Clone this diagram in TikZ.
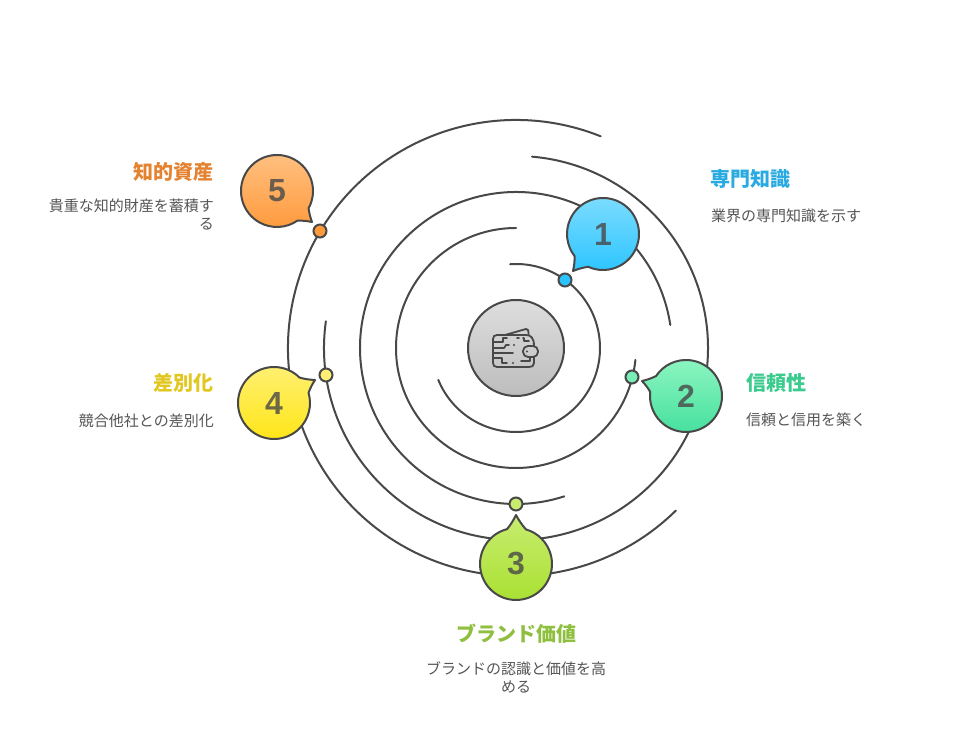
\documentclass[tikz,border=0pt]{standalone}
\usepackage{fontspec}
\usetikzlibrary{calc}
\setmainfont{Noto Sans CJK JP}
\newfontfamily\numfont{Liberation Sans}
\definecolor{ink}{HTML}{484848}
\definecolor{desc}{HTML}{555555}
\definecolor{aT}{HTML}{80DDFF}\definecolor{aB}{HTML}{29C4FF}\definecolor{aX}{HTML}{29ABE2}
\definecolor{bT}{HTML}{8CF5C0}\definecolor{bB}{HTML}{45E09E}\definecolor{bX}{HTML}{3CCB8E}
\definecolor{cT}{HTML}{C8EC70}\definecolor{cB}{HTML}{A8E030}\definecolor{cX}{HTML}{8FBF3F}
\definecolor{dT}{HTML}{FFF075}\definecolor{dB}{HTML}{FFE514}\definecolor{dX}{HTML}{E2C721}
\definecolor{eT}{HTML}{FFC284}\definecolor{eB}{HTML}{FF9A3C}\definecolor{eX}{HTML}{E5822F}
\tikzset{
  x=1pt,y=1pt,
  ring/.style={draw=ink,line width=2pt,line cap=round},
  balloon/.style={draw=ink,line width=2pt,line join=round},
  dotm/.style={circle,draw=ink,line width=2pt,minimum size=13pt,inner sep=0pt},
  numlabel/.style={font=\numfont\bfseries\fontsize{32}{32}\selectfont,text=ink,text opacity=.8,inner sep=0pt},
  ttl/.style={font=\fontsize{20}{24}\selectfont\bfseries,inner sep=0pt},
  dsc/.style={font=\fontsize{15}{18}\selectfont,text=desc,inner sep=0pt},
}
% #1 centre, #2 start angle, #3 end angle (ccw), #4 tip, #5 top colour, #6 bottom colour
\newcommand{\balloonshape}[6]{%
  \path[balloon,draw=ink,top color=#5,bottom color=#6]
    ($(#1)+(#2:36)$) arc[start angle=#2,end angle=#3,radius=36]
    to[bend left=6] (#4) to[bend left=6] cycle;}
\begin{document}
\begin{tikzpicture}
\useasboundingbox (0,0) rectangle (960,728);
\fill[white] (0,0) rectangle (960,728);
\begin{scope}[shift={(0,728)}]
\coordinate (c) at (516,-348);
% rings
\draw[ring] ($(c)+(94:84)$) arc[start angle=94,end angle=-157.7,radius=84];
\draw[ring] ($(c)+(90:120)$) arc[start angle=90,end angle=354.3,radius=120];
\draw[ring] ($(c)+(8.5:156)$) arc[start angle=8.5,end angle=288,radius=156];
\draw[ring] ($(c)+(172:192)$) arc[start angle=172,end angle=445.2,radius=192];
\draw[ring] ($(c)+(68.2:228)$) arc[start angle=68.2,end angle=314.5,radius=228];
% centre
\node[circle,draw=ink,line width=2pt,minimum size=96pt,inner sep=0pt,top color=black!13,bottom color=black!26] (hub) at (c) {};
% wallet icon
\begin{scope}[shift={(c)},line width=1.8pt,line cap=round,line join=round]
\draw[ink] (-11,13) -- (10,19) .. controls (12,19.3) and (12.5,18) .. (12.5,13);
\draw[ink] (18,-9) -- (18,-15) .. controls (18,-18) and (16,-19) .. (13,-19) -- (-19,-19) .. controls (-21.5,-19) and (-23,-17.5) .. (-23,-15) -- (-23,9) .. controls (-23,11.5) and (-21.5,13) .. (-19,13) -- (10,13) .. controls (15,13) and (18,10) .. (18,2);
\draw[ink,rounded corners=5pt] (7,2) rectangle (22,-9);
\fill[ink] (11,-3.5) circle (1.2);
\draw[ink] (-23,6) -- (-13,6) -- (-13,10) -- (-9,10);
\draw[ink] (-23,0) -- (-12,0) -- (-10,3) -- (-7,3);
\draw[ink] (-23,-5) -- (-3,-5);
\draw[ink] (-23,-10) -- (-14,-10) -- (-14,-15) -- (-9,-15);
\draw[ink] (14,-10) -- (14,-13) -- (5,-13);
\draw[ink] (1,10) -- (3,10) (7,10) -- (8,10) -- (8,7) -- (13,7);
\fill[ink] (-3,-15) circle (1.2) (-2,3) circle (1.2);
\end{scope}
% balloons
\coordinate (p1) at (603,-234);
\coordinate (p2) at (686,-396);
\coordinate (p3) at (516,-564);
\coordinate (p4) at (274,-403);
\coordinate (p5) at (277,-191);
\coordinate (t1) at (573,-271);
\coordinate (t2) at (642,-381);
\coordinate (t3) at (516,-515);
\coordinate (t4) at (315,-380);
\coordinate (t5) at (312,-222);
\balloonshape{p1}{-114.4}{218}{t1}{aT}{aB}
\balloonshape{p2}{173.5}{506.3}{t2}{bT}{bB}
\balloonshape{p3}{104.4}{434}{t3}{cT}{cB}
\balloonshape{p4}{45}{376.4}{t4}{dT}{dB}
\balloonshape{p5}{-28.7}{304.6}{t5}{eT}{eB}
\node[numlabel] (n1) at (p1) {1};
\node[numlabel] (n2) at (p2) {2};
\node[numlabel] (n3) at (p3) {3};
\node[numlabel] (n4) at (p4) {4};
\node[numlabel] (n5) at (p5) {5};
% markers
\node[dotm,fill=aB] (m1) at (565,-280) {};
\node[dotm,fill=bT!70!bB] (m2) at (632,-377) {};
\node[dotm,fill=cT] (m3) at (516,-504) {};
\node[dotm,fill=dT] (m4) at (326,-375) {};
\node[dotm,fill=eB] (m5) at (320,-231) {};
% labels
\node[ttl,text=aX,anchor=west] (l1) at (710.5,-179) {専門知識};
\node[dsc,anchor=west] (d1) at (711,-216) {業界の専門知識を示す};
\node[ttl,text=bX,anchor=west] (l2) at (746,-383) {信頼性};
\node[dsc,anchor=west] (d2) at (746,-420) {信頼と信用を築く};
\node[ttl,text=cX] (l3) at (516,-634) {ブランド価値};
\node[dsc,align=center,anchor=north] (d3) at (516,-661) {ブランドの認識と価値を高\\める};
\node[ttl,text=dX,anchor=east] (l4) at (214,-383) {差別化};
\node[dsc,anchor=east] (d4) at (214,-421) {競合他社との差別化};
\node[ttl,text=eX,anchor=east] (l5) at (214,-172) {知的資産};
\node[dsc,align=right,anchor=north east] (d5) at (214,-199) {貴重な知的財産を蓄積す\\る};
\end{scope}
\end{tikzpicture}
\end{document}
